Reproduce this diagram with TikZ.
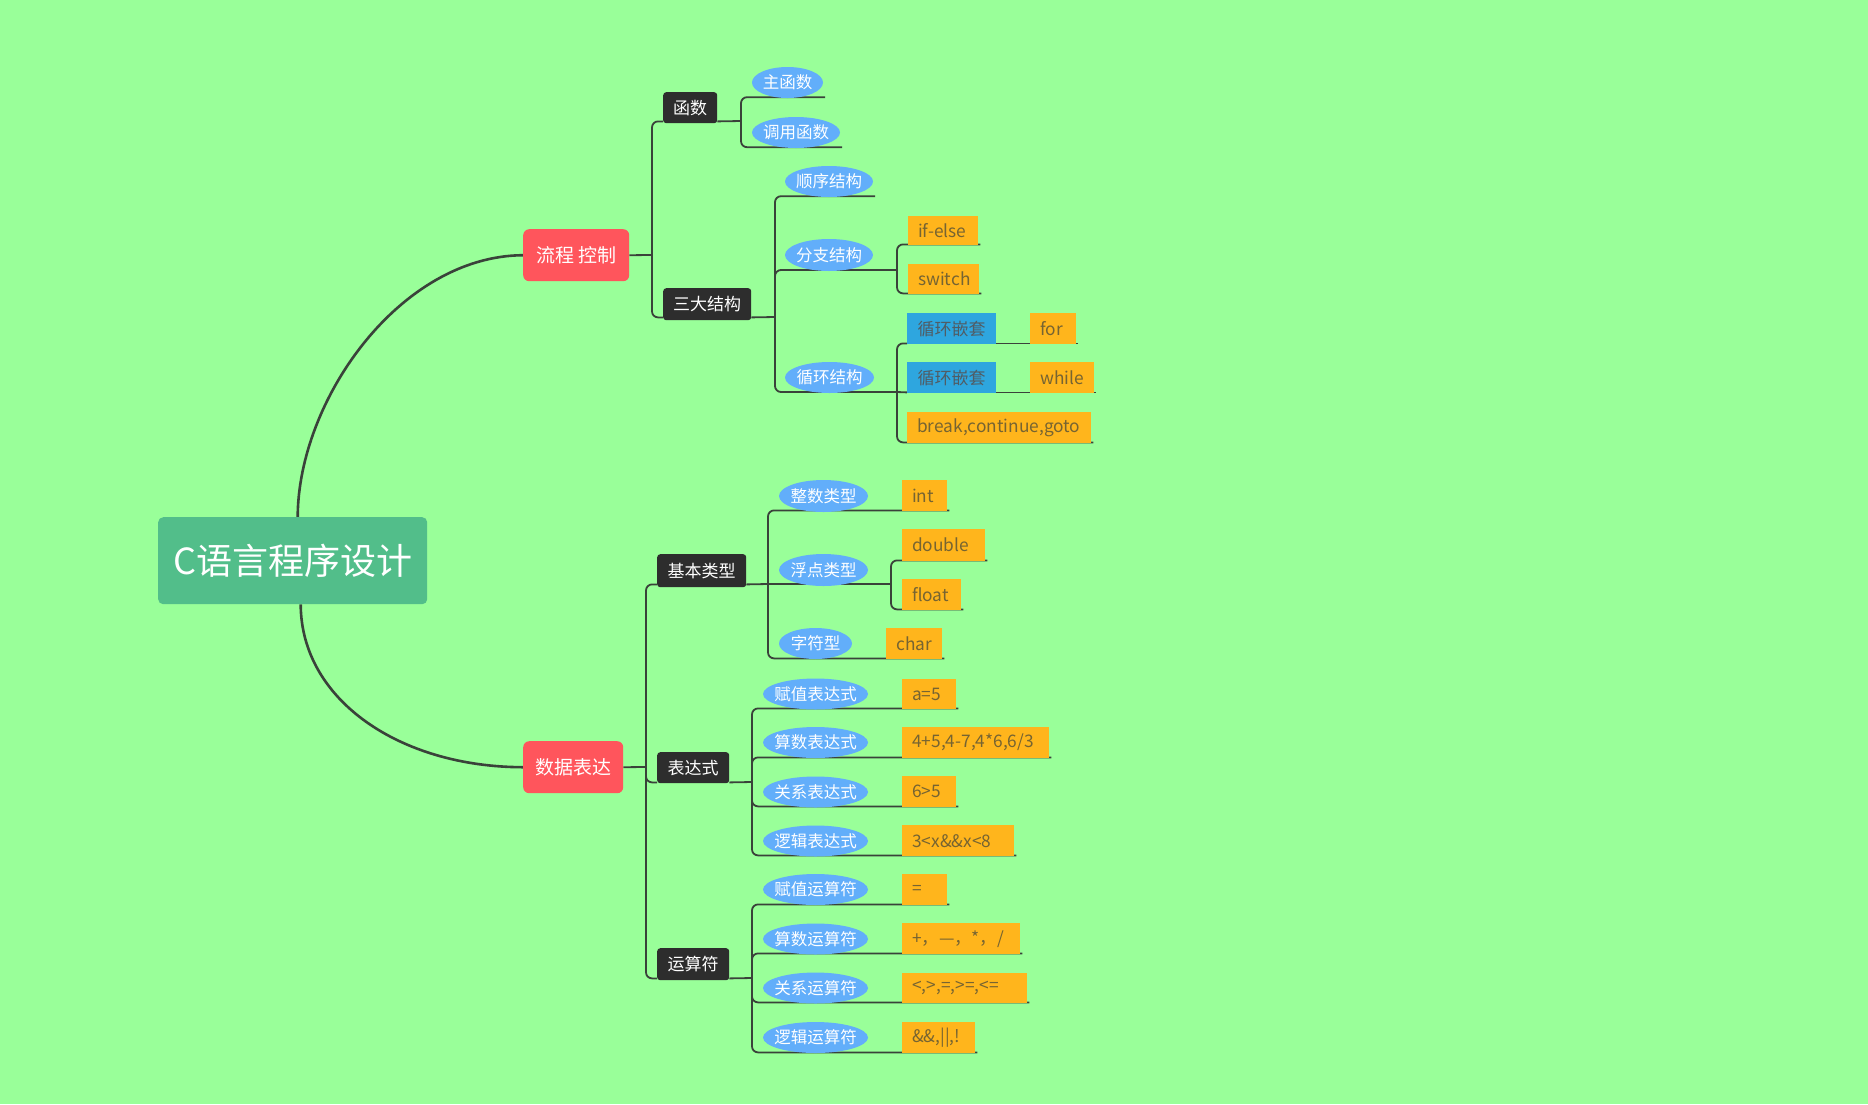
\documentclass[tikz,border=0pt]{standalone}
\usepackage{fontspec}
\setmainfont{Noto Sans CJK SC}
\usetikzlibrary{shapes.geometric,calc,backgrounds}
\definecolor{bgc}{RGB}{153,255,153}
\definecolor{rootc}{RGB}{82,190,138}
\definecolor{redc}{RGB}{255,85,92}
\definecolor{darkc}{RGB}{45,45,45}
\definecolor{ellc}{RGB}{98,174,250}
\definecolor{bluec}{RGB}{46,166,223}
\definecolor{btc}{RGB}{80,92,100}
\definecolor{orc}{RGB}{255,181,28}
\definecolor{otc}{RGB}{118,100,50}
\definecolor{linec}{RGB}{58,66,58}
\newcommand\ez[1]{\makebox[0pt]{#1}}
\begin{document}
\begin{tikzpicture}[x=1pt,y=-1pt,
  rootn/.style={anchor=north west, fill=rootc, text=white, rounded corners=5pt, inner sep=0pt, font=\fontsize{36}{40}\selectfont},
  redn/.style={anchor=north west, fill=redc, text=white, rounded corners=6pt, inner sep=0pt, font=\fontsize{19}{22}\selectfont},
  darkn/.style={anchor=north west, fill=darkc, text=white, rounded corners=3pt, inner sep=0pt, font=\fontsize{17}{20}\selectfont},
  ell/.style={ellipse, fill=ellc, text=white, inner sep=0pt, font=\fontsize{16.5}{19}\selectfont},
  bb/.style={anchor=north west, fill=bluec, text=btc, inner sep=0pt, font=\fontsize{17}{20}\selectfont},
  ob/.style={anchor=north west, fill=orc, text=otc, inner xsep=10pt, inner ysep=0pt, align=left, font=\fontsize{17.3}{19}\selectfont},
  br/.style={draw=linec, line width=1.8pt, rounded corners=6pt},
  curve/.style={draw=linec, line width=2.6pt}
]
\useasboundingbox (0,0) rectangle (1868,1104);

% root and main branches
\node[rootn, minimum width=269pt, minimum height=87pt] (root) at (158,517) {C语言程序设计};
\node[redn, minimum width=106pt, minimum height=52pt] (lc) at (523,229) {流程 控制};
\node[redn, minimum width=100pt, minimum height=52pt] (sj) at (523,741) {数据表达};

% dark nodes
\node[darkn, minimum width=54pt, minimum height=31pt] (hs) at (663,92) {函数};
\node[darkn, minimum width=88pt, minimum height=32pt] (sd) at (663,288) {三大结构};
\node[darkn, minimum width=89pt, minimum height=33pt] (jb) at (657,554) {基本类型};
\node[darkn, minimum width=72pt, minimum height=31pt] (bds) at (657,752) {表达式};
\node[darkn, minimum width=72pt, minimum height=32pt] (ysf) at (657,948) {运算符};

% ellipses
\node[ell, minimum width=71pt, minimum height=31pt] (zhu) at (787.5,82.5) {\ez{主函数}};
\node[ell, minimum width=88pt, minimum height=31pt] (dy) at (796,132.5) {\ez{调用函数}};
\node[ell, minimum width=88pt, minimum height=31pt] (sx) at (829,181.5) {\ez{顺序结构}};
\node[ell, minimum width=88pt, minimum height=32pt] (fz) at (829,255) {\ez{分支结构}};
\node[ell, minimum width=89pt, minimum height=31pt] (xh) at (829.5,377.5) {\ez{循环结构}};
\node[ell, minimum width=89pt, minimum height=32pt] (zs) at (823.5,496) {\ez{整数类型}};
\node[ell, minimum width=89pt, minimum height=32pt] (fd) at (823.5,570) {\ez{浮点类型}};
\node[ell, minimum width=73pt, minimum height=31pt] (zf) at (815.5,643.5) {\ez{字符型}};
\node[ell, minimum width=105pt, minimum height=31pt] (e1) at (815.5,694) {\ez{赋值表达式}};
\node[ell, minimum width=105pt, minimum height=31pt] (e2) at (815.5,742.5) {\ez{算数表达式}};
\node[ell, minimum width=105pt, minimum height=31pt] (e3) at (815.5,792) {\ez{关系表达式}};
\node[ell, minimum width=105pt, minimum height=31pt] (e4) at (815.5,841) {\ez{逻辑表达式}};
\node[ell, minimum width=105pt, minimum height=31pt] (o1) at (815.5,889.5) {\ez{赋值运算符}};
\node[ell, minimum width=105pt, minimum height=31pt] (o2) at (815.5,939) {\ez{算数运算符}};
\node[ell, minimum width=105pt, minimum height=31pt] (o3) at (815.5,988) {\ez{关系运算符}};
\node[ell, minimum width=105pt, minimum height=31pt] (o4) at (815.5,1037.5) {\ez{逻辑运算符}};

% blue boxes
\node[bb, minimum width=89pt, minimum height=31pt] (qt1) at (907,313) {循环嵌套};
\node[bb, minimum width=89pt, minimum height=31pt] (qt2) at (907,362) {循环嵌套};

% orange boxes
\node[ob, text width=50pt, minimum height=29pt] (ifelse) at (908,216) {if-else};
\node[ob, text width=51pt, minimum height=30pt] (sw) at (908,264) {switch};
\node[ob, text width=26pt, minimum height=31pt] (for) at (1030,313) {for};
\node[ob, text width=44pt, minimum height=31pt] (while) at (1030,362) {while};
\node[ob, text width=164pt, minimum height=31pt] (brk) at (907,412) {break,continue,goto};
\node[ob, text width=25pt, minimum height=31pt] (int) at (902,480) {int};
\node[ob, text width=63pt, minimum height=32pt] (dbl) at (902,529) {double};
\node[ob, text width=39pt, minimum height=31pt] (flt) at (902,579) {float};
\node[ob, text width=36pt, minimum height=31pt] (chr) at (886,628) {char};
\node[ob, text width=34pt, minimum height=30pt] (a5) at (902,679) {a=5};
\node[ob, text width=127pt, minimum height=31pt] (ar) at (902,727) {4+5,4-7,4*6,6/3};
\node[ob, text width=34pt, minimum height=31pt] (rel) at (902,776) {6>5};
\node[ob, text width=92pt, minimum height=31pt] (lg) at (902,825) {3<x\&\&x<8};
\node[ob, text width=25pt, minimum height=31pt] (eq) at (902,874) {=};
\node[ob, text width=98pt, minimum height=31pt] (op) at (902,923) {+，—，*，/};
\node[ob, text width=105pt, minimum height=30pt] (cmp) at (902,973) {<,>,=,>=,<=};
\node[ob, text width=53pt, minimum height=31pt] (lo) at (902,1022) {\&\&,||,!};

% junction coordinates
\coordinate (jA) at (652,255);
\coordinate (jB) at (741,121);
\coordinate (jC) at (775,317);
\coordinate (jD) at (897,270);
\coordinate (jE) at (897,392);
\coordinate (jF) at (646,767);
\coordinate (jG) at (768,584);
\coordinate (jH) at (891,584);
\coordinate (jI) at (752,782);
\coordinate (jJ) at (752,978);

\begin{scope}[on background layer]
\fill[bgc] (0,0) rectangle (1868,1104);
% main curves
\draw[curve] ($(root.north)+(5,0)$) .. controls (298,400) and (400,256) .. (lc.west);
\draw[curve] ($(root.south)+(8,0)$) .. controls (301,700) and (400,767) .. (sj.west);
% 流程控制
\draw[br] (lc.east) -- (jA);
\draw[br] (jA) |- ($(hs.south west)+(0,-2)$);
\draw[br] (jA) |- ($(sd.south west)+(0,-3)$);
% 函数
\draw[br] ($(hs.south east)+(0,-2)$) -- (jB);
\draw[br] (jB) |- ($(zhu.east |- zhu.south)+(2,-1)$);
\draw[br] (jB) |- ($(dy.east |- dy.south)+(2,-1)$);
% 三大结构
\draw[br] ($(sd.south east)+(0,-3)$) -- (jC);
\draw[br] (jC) |- ($(sx.east |- sx.south)+(2,-1)$);
\draw[br] (jC) |- (jD);
\draw[br] (jD) |- ($(ifelse.south east)+(2,-1)$);
\draw[br] (jD) |- ($(sw.south east)+(2,-1)$);
\draw[br] (jC) |- (jE);
\draw[br] (jE) |- ($(qt1.south west)+(0,-1)$);
\draw[br] (jE) -- ($(qt2.south west)+(0,-1)$);
\draw[br] (jE) |- ($(brk.south east)+(2,-1)$);
\draw[br] ($(qt1.south east)+(0,-1)$) -- ($(for.south east)+(2,-1)$);
\draw[br] ($(qt2.south east)+(0,-1)$) -- ($(while.south east)+(2,-1)$);
% 数据表达
\draw[br] (sj.east) -- (jF);
\draw[br] (jF) |- ($(jb.south west)+(0,-3)$);
\draw[br] (jF) |- ($(bds.south west)+(0,-1)$);
\draw[br] (jF) |- ($(ysf.south west)+(0,-2)$);
% 基本类型
\draw[br] ($(jb.south east)+(0,-3)$) -- (jG);
\draw[br] (jG) |- ($(int.south east)+(2,-1)$);
\draw[br] (jG) -- (jH);
\draw[br] (jH) |- ($(dbl.south east)+(2,-1)$);
\draw[br] (jH) |- ($(flt.south east)+(2,-1)$);
\draw[br] (jG) |- ($(chr.south east)+(2,-1)$);
% 表达式
\draw[br] ($(bds.south east)+(0,-1)$) -- (jI);
\draw[br] (jI) |- ($(a5.south east)+(2,-1)$);
\draw[br] (jI) |- ($(ar.south east)+(2,-1)$);
\draw[br] (jI) |- ($(rel.south east)+(2,-1)$);
\draw[br] (jI) |- ($(lg.south east)+(2,-1)$);
% 运算符
\draw[br] ($(ysf.south east)+(0,-2)$) -- (jJ);
\draw[br] (jJ) |- ($(eq.south east)+(2,-1)$);
\draw[br] (jJ) |- ($(op.south east)+(2,-1)$);
\draw[br] (jJ) |- ($(cmp.south east)+(2,-1)$);
\draw[br] (jJ) |- ($(lo.south east)+(2,-1)$);
\end{scope}
\end{tikzpicture}
\end{document}
